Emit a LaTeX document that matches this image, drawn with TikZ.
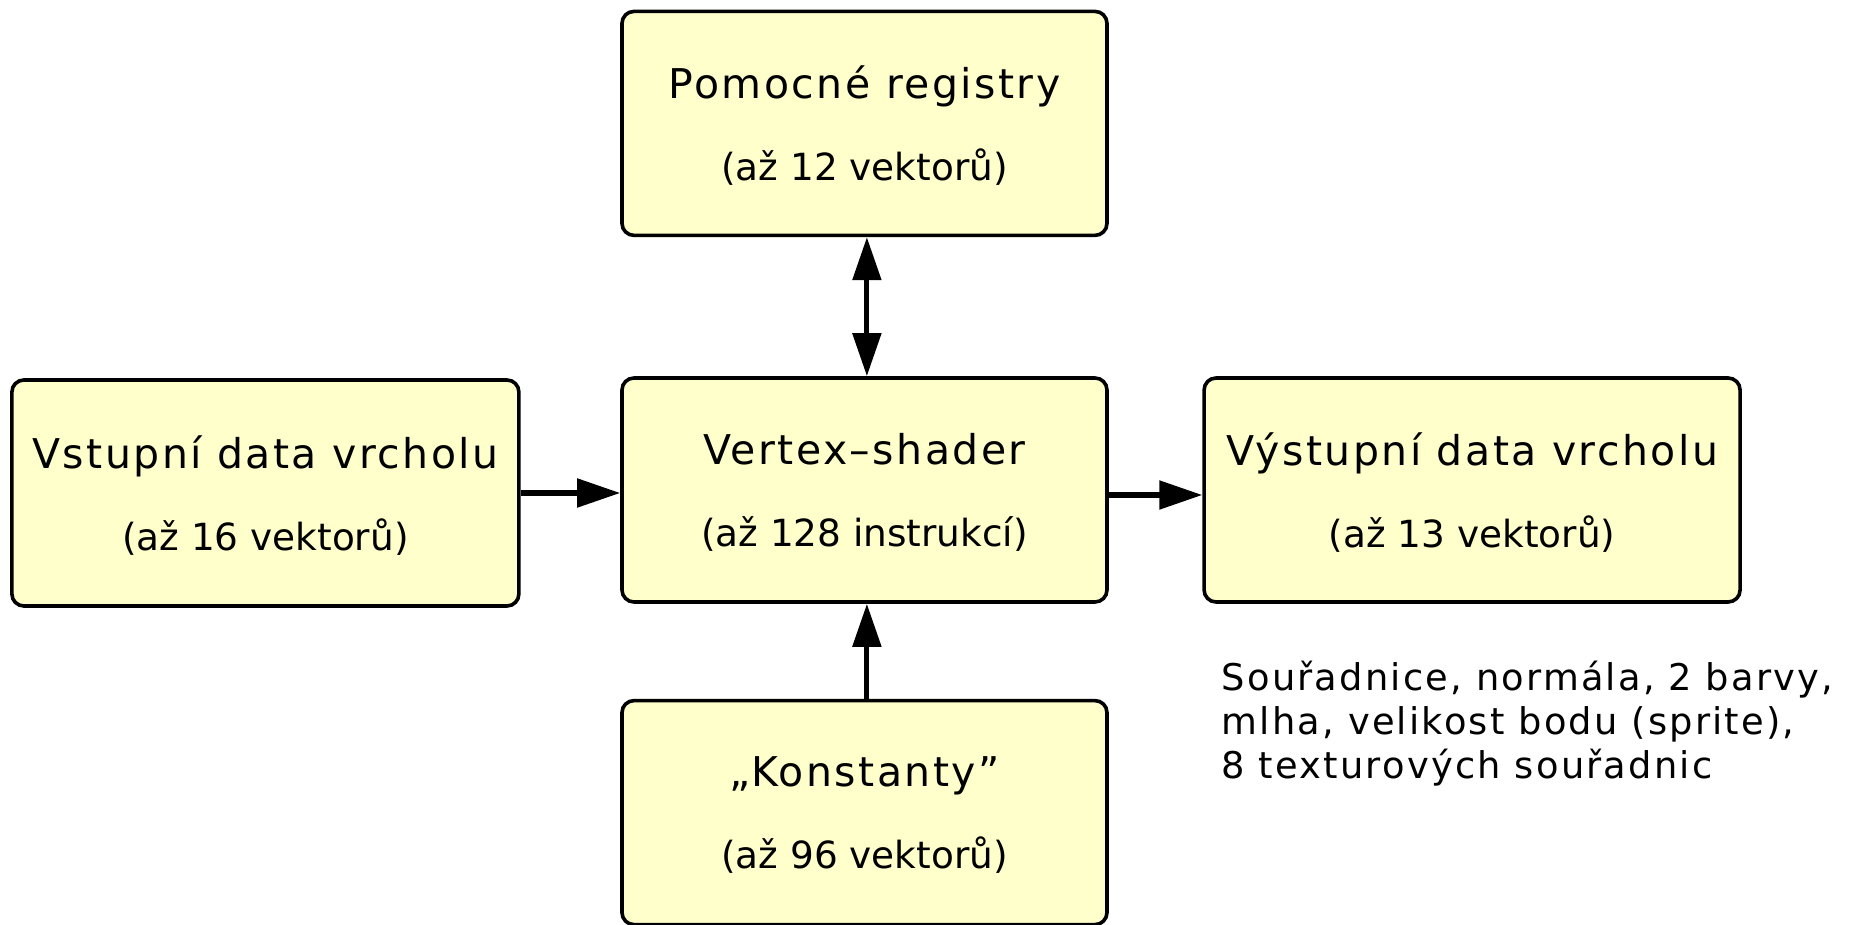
\documentclass[tikz,border=0pt]{standalone}
\usepackage{fontspec}
\setmainfont{DejaVu Sans}
\newfontfamily\spacedfont[LetterSpace=6]{DejaVu Sans}
\usetikzlibrary{positioning,arrows.meta}
\definecolor{boxfill}{HTML}{FFFFCC}
\newcommand{\upto}[1]{(až #1)}
\newcommand{\vekt}[1]{\upto{#1 vektorů}}
\newcommand{\boxtitle}[1]{{\spacedfont\fontsize{20.5}{41}\selectfont #1}}

\begin{document}
\begin{tikzpicture}[main node/.style={draw, line width=1.8pt, rounded corners=6pt,
      fill=boxfill, minimum width=242.5pt, minimum height=112pt, align=center,
      text depth=0pt, font=\fontsize{18.7}{41}\selectfont}]
    \useasboundingbox (-432.25pt,-217.5pt) rectangle (496.75pt,245pt);

    \node[main node] (1) {\boxtitle{Vertex–shader}\\ \upto{128 instrukcí}};
    \node[main node] (2) [above=69.5pt of 1] {\boxtitle{Pomocné registry}\\ \vekt{12}};
    \node[main node, minimum width=253.5pt, minimum height=113pt] (3) [left=49.75pt of 1, yshift=-1.5pt] {\boxtitle{Vstupní data vrcholu}\\ \vekt{16}};
    \node[main node, minimum width=268pt] (4) [right=46.75pt of 1] {\boxtitle{Výstupní data vrcholu}\\ \vekt{13}};
    \node[main node] (5) [below=47.5pt of 1] {\boxtitle{„Konstanty”}\\ \vekt{96}};

    \node[inner sep=0pt, align=left, font=\spacedfont\fontsize{18.4}{22.2}\selectfont] (6)
      [below right=28.2pt and 9.5pt of 4.south west]
      {Souřadnice, normála, 2 barvy,\\ mlha, velikost bodu (sprite),\\ 8 texturových souřadnic};

    \path[every edge/.append style={line width=2.6pt, -{Triangle[length=21.5pt, width=14pt]}}]
    (3.east) edge (3.east -| 1.west)
    ([yshift=-2.5pt]1.east) edge ([yshift=-2.5pt]4.west)
    ([xshift=1.2pt]5.north) edge ([xshift=1.2pt]1.south)
    ([xshift=1.2pt]1.north) edge[{Triangle[length=21.5pt, width=14pt]}-{Triangle[length=21.5pt, width=14pt]}] ([xshift=1.2pt]2.south);
  \end{tikzpicture}
\end{document}
